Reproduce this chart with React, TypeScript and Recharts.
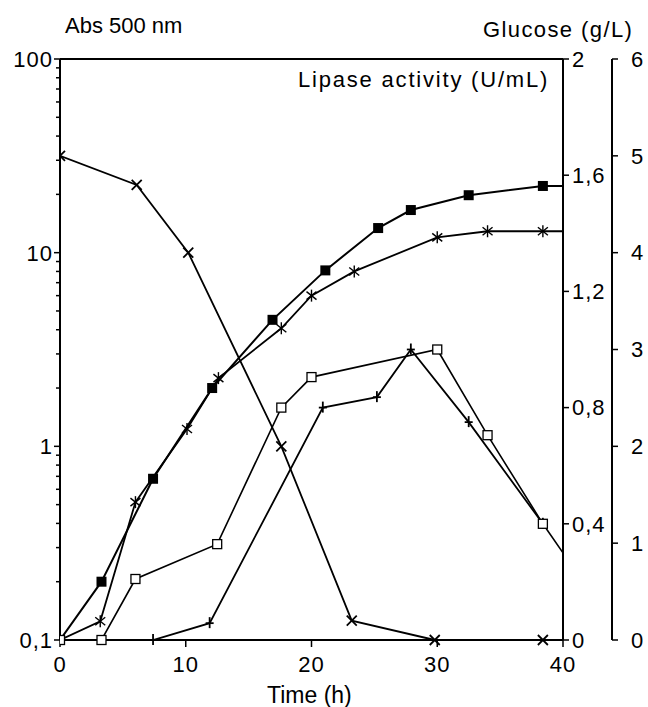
import React from 'react';
import { ComposedChart, Line, XAxis, YAxis, ReferenceLine } from 'recharts';

// Abs 500 nm, filled squares (log axis)
const filledTime = [0, 3.3, 7.4, 12.1, 16.9, 21.1, 25.3, 27.9, 32.5, 38.4, 40];
const filledAbs = [0.1, 0.2, 0.68, 2.0, 4.5, 8.1, 13.4, 16.6, 19.8, 22.1, 22.1];

// asterisks (log axis)
const starTime = [0, 3.2, 6.0, 10.1, 12.6, 17.6, 20.0, 23.4, 30.0, 34.0, 38.4, 40];
const starAbs = [0.1, 0.125, 0.515, 1.23, 2.25, 4.07, 6.0, 8.0, 12.0, 12.9, 12.9, 12.9];

// glucose g/L, crosses
const glucoseTime = [0, 6.1, 10.2, 17.6, 23.2, 29.8, 38.4];
const glucose = [5.0, 4.7, 4.0, 2.0, 0.2, 0, 0];

// lipase activity U/mL, open squares
const openTime = [0, 3.3, 6.0, 12.5, 17.6, 20.0, 30.0, 34.0, 38.4, 40];
const openLipase = [0, 0, 0.21, 0.33, 0.8, 0.905, 1.0, 0.705, 0.4, 0.3];

// lipase activity U/mL, plus signs
const plusTime = [0, 7.4, 11.9, 20.9, 25.2, 27.9, 32.5, 38.4];
const plusLipase = [0, 0, 0.058, 0.8, 0.836, 1.0, 0.75, 0.4];

const timeTicks = [0, 10, 20, 30, 40];
const absTicks = [
  0.1, 0.2, 0.3, 0.4, 0.5, 0.6, 0.7, 0.8, 0.9,
  1, 2, 3, 4, 5, 6, 7, 8, 9,
  10, 20, 30, 40, 50, 60, 70, 80, 90, 100,
];
const absLabels: Record<number, string> = { 0.1: '0,1', 1: '1', 10: '10', 100: '100' };
const lipaseTicks = [0, 0.4, 0.8, 1.2, 1.6, 2];
const glucoseTicks = [0, 1, 2, 3, 4, 5, 6];

const FONT = '"Liberation Sans", Arial, sans-serif';
const LEFT = 60;

const pts = (ts: number[], vs: number[]) => ts.map((t, i) => ({ t, v: vs[i] }));

const filledData = pts(filledTime, filledAbs);
const starData = pts(starTime, starAbs);
const glucoseData = pts(glucoseTime, glucose);
const openData = pts(openTime, openLipase);
const plusData = pts(plusTime, plusLipase);

function LogTick(props: any) {
  const { y, payload } = props;
  const label = absLabels[payload.value];
  const len = label ? 6 : 4;
  return (
    <g>
      <line x1={LEFT - len} x2={LEFT} y1={y} y2={y} stroke="#000" strokeWidth={1.5} />
      {label && (
        <text x={LEFT - 7} y={y} dy="0.36em" textAnchor="end" fontSize={22} fontFamily={FONT} letterSpacing={1} fill="#000">
          {label}
        </text>
      )}
    </g>
  );
}

const FilledSquare = ({ cx, cy }: any) => <rect x={cx - 5} y={cy - 5} width={10} height={10} fill="#000" />;
const OpenSquare = ({ cx, cy }: any) => (
  <rect x={cx - 4.5} y={cy - 4.5} width={9} height={9} fill="#fff" stroke="#000" strokeWidth={1.3} />
);
const Asterisk = ({ cx, cy }: any) => (
  <g stroke="#000" strokeWidth={1.4}>
    <line x1={cx - 5} y1={cy - 4} x2={cx + 5} y2={cy + 4} />
    <line x1={cx - 5} y1={cy + 4} x2={cx + 5} y2={cy - 4} />
    <line x1={cx} y1={cy - 6} x2={cx} y2={cy + 6} />
  </g>
);
const Cross = ({ cx, cy }: any) => (
  <g stroke="#000" strokeWidth={1.8}>
    <line x1={cx - 5} y1={cy - 5} x2={cx + 5} y2={cy + 5} />
    <line x1={cx - 5} y1={cy + 5} x2={cx + 5} y2={cy - 5} />
  </g>
);
const Plus = ({ cx, cy }: any) => (
  <g stroke="#000" strokeWidth={1.8}>
    <line x1={cx} y1={cy - 6} x2={cx} y2={cy + 5} />
    <line x1={cx - 4} y1={cy} x2={cx + 4} y2={cy} />
  </g>
);

const dotOf = (Marker: any) => (p: any) =>
  p.payload.t >= 40 ? <g key={p.index} /> : <Marker key={p.index} cx={p.cx} cy={p.cy} />;

const labelStyle: React.CSSProperties = {
  position: 'absolute',
  fontFamily: FONT,
  fontSize: 22,
  lineHeight: '22px',
  whiteSpace: 'nowrap',
  color: '#000',
};

export default function App() {
  const axisLine = { stroke: '#000', strokeWidth: 2 };
  const tickStyle = { fill: '#000', fontSize: 22, fontFamily: FONT, letterSpacing: 1 };
  return (
    <div style={{ position: 'absolute', left: 0, top: 0, width: 648, height: 707, background: '#fff' }}>
      <ComposedChart width={648} height={707} margin={{ top: 59, right: 0, bottom: 0, left: 0 }}>
        <XAxis
          xAxisId="t"
          dataKey="t"
          type="number"
          domain={[0, 40]}
          ticks={timeTicks}
          interval={0}
          allowDataOverflow
          height={67}
          axisLine={axisLine}
          tickLine={{ stroke: '#000', strokeWidth: 1.5 }}
          tickSize={7}
          tickMargin={9}
          tick={tickStyle}
        />
        <YAxis
          yAxisId="abs"
          orientation="left"
          type="number"
          scale="log"
          domain={[0.1, 100]}
          allowDataOverflow
          ticks={absTicks}
          interval={0}
          width={60}
          axisLine={axisLine}
          tickLine={false}
          tick={<LogTick />}
        />
        <YAxis
          yAxisId="r1"
          orientation="right"
          type="number"
          domain={[0, 2]}
          ticks={lipaseTicks}
          interval={0}
          width={49}
          axisLine={axisLine}
          tickLine={{ stroke: '#000', strokeWidth: 1.5 }}
          tickSize={6}
          tickMargin={3}
          tick={{ ...tickStyle, textAnchor: 'start' }}
          tickFormatter={(v: number) => String(v).replace('.', ',')}
        />
        <YAxis
          yAxisId="r2"
          orientation="right"
          type="number"
          domain={[0, 6]}
          ticks={glucoseTicks}
          interval={0}
          width={36}
          axisLine={axisLine}
          tickLine={{ stroke: '#000', strokeWidth: 1.5 }}
          tickSize={6}
          tickMargin={13}
          tick={{ ...tickStyle, textAnchor: 'start' }}
        />
        <ReferenceLine xAxisId="t" yAxisId="abs" y={100} stroke="#000" strokeWidth={2} />
        <Line xAxisId="t" yAxisId="r2" data={glucoseData} dataKey="v" type="linear" stroke="#000" strokeWidth={1.8} dot={dotOf(Cross)} isAnimationActive={false} />
        <Line xAxisId="t" yAxisId="abs" data={starData} dataKey="v" type="linear" stroke="#000" strokeWidth={1.8} dot={dotOf(Asterisk)} isAnimationActive={false} />
        <Line xAxisId="t" yAxisId="abs" data={filledData} dataKey="v" type="linear" stroke="#000" strokeWidth={2} dot={dotOf(FilledSquare)} isAnimationActive={false} />
        <Line xAxisId="t" yAxisId="r1" data={plusData} dataKey="v" type="linear" stroke="#000" strokeWidth={1.8} dot={dotOf(Plus)} isAnimationActive={false} />
        <Line xAxisId="t" yAxisId="r1" data={openData} dataKey="v" type="linear" stroke="#000" strokeWidth={1.6} dot={dotOf(OpenSquare)} isAnimationActive={false} />
      </ComposedChart>
      <div style={{ ...labelStyle, left: 65, top: 15 }}>Abs 500 nm</div>
      <div style={{ ...labelStyle, left: 483, top: 19, letterSpacing: 1.4 }}>Glucose (g/L)</div>
      <div style={{ ...labelStyle, left: 298, top: 69, letterSpacing: 1.8 }}>Lipase activity (U/mL)</div>
      <div style={{ ...labelStyle, left: 267, top: 684, fontSize: 23 }}>Time (h)</div>
    </div>
  );
}
